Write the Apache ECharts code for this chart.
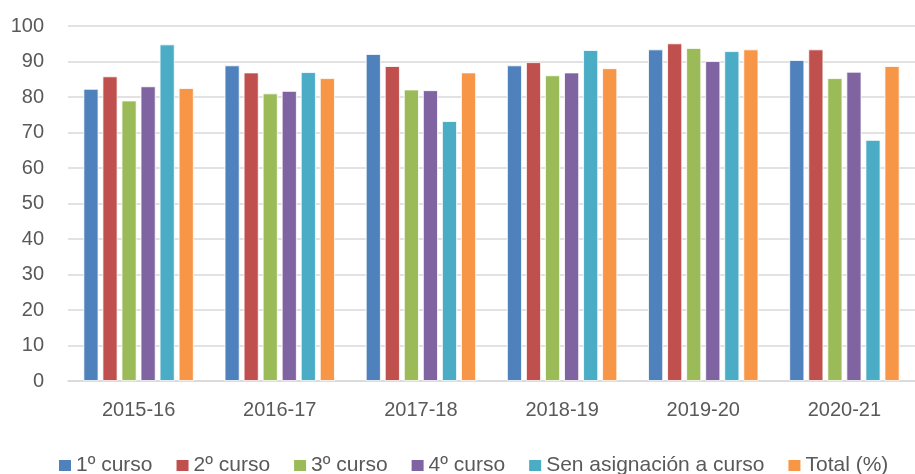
<!DOCTYPE html>
<html><head><meta charset="utf-8">
<script src="https://cdn.jsdelivr.net/npm/echarts@6/dist/echarts.min.js"></script>
<style>html,body{margin:0;padding:0;background:#fff}#c{width:915px;height:474px}</style>
</head><body><div id="c"></div>
<script>
const categories = ['2015-16','2016-17','2017-18','2018-19','2019-20','2020-21'];
const seriesNames = ['1º curso','2º curso','3º curso','4º curso','Sen asignación a curso','Total (%)'];
const curso1 = [82.3, 88.9, 92.1, 88.9, 93.4, 90.4];
const curso2 = [85.8, 86.9, 88.7, 89.8, 95.1, 93.4];
const curso3 = [79.0, 81.0, 82.1, 86.1, 93.8, 85.3];
const curso4 = [83.0, 81.7, 81.9, 86.9, 90.1, 87.1];
const senAsignacion = [94.8, 87.0, 73.2, 93.2, 92.9, 67.9];
const total = [82.5, 85.3, 86.9, 88.1, 93.4, 88.7];
const yTicks = [0,10,20,30,40,50,60,70,80,90,100];
const colors = ['#4F81BD','#C0504D','#9BBB59','#8064A2','#4BACC6','#F79646'];
const allData = [curso1, curso2, curso3, curso4, senAsignacion, total];

const chart = echarts.init(document.getElementById('c'));
const font = '"Liberation Sans", "Noto Sans", sans-serif';
chart.setOption({
  animation: false,
  textStyle: {fontFamily: font},
  grid: {left: 68, right: 0, top: 26, bottom: 93},
  legend: {
    top: 455, left: 57, padding: 0,
    itemWidth: 14, itemHeight: 13, itemGap: 22,
    icon: 'rect',
    textStyle: {fontSize: 21, color: '#595959', fontFamily: font, padding: [0,0,0,-1]},
    data: seriesNames
  },
  xAxis: {
    type: 'category', data: categories,
    axisLine: {lineStyle: {color: '#D9D9D9', width: 1.5}},
    axisTick: {show: false},
    axisLabel: {fontSize: 20, color: '#595959', margin: 19}
  },
  yAxis: {
    type: 'value', min: yTicks[0], max: yTicks[yTicks.length-1], interval: 10,
    axisLine: {show: false}, axisTick: {show: false},
    splitLine: {lineStyle: {color: '#D9D9D9', width: 1.5}},
    axisLabel: {fontSize: 20, color: '#595959', margin: 24}
  },
  series: seriesNames.map((n, i) => ({
    name: n, type: 'bar', data: allData[i],
    barWidth: 15, barGap: '27%',
    itemStyle: {color: colors[i], borderColor: '#fff', borderWidth: 0.8}
  }))
});
</script></body></html>
